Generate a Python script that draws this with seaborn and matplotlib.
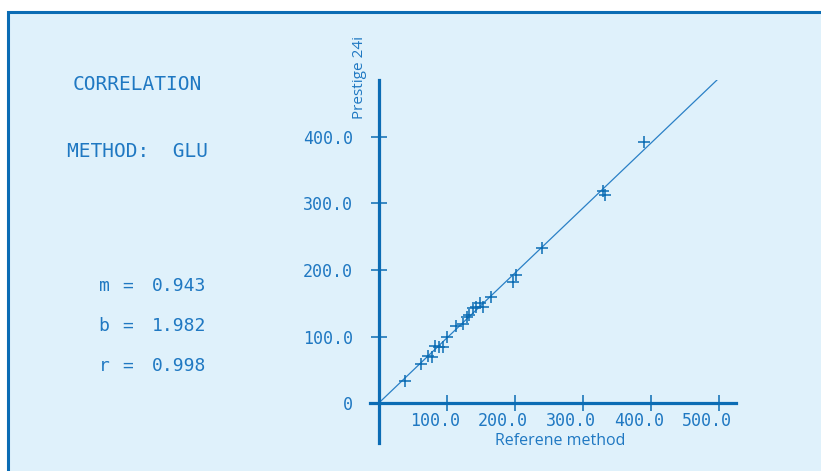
import numpy as np
import pandas as pd
import matplotlib
matplotlib.use('Agg')
import matplotlib.pyplot as plt
import matplotlib.transforms as mtransforms
from matplotlib.patches import Rectangle
import seaborn as sns

# 数据
reference = [38.9, 62.4, 73.1, 78.9, 82.9, 88.8, 95.1, 100.1, 113.7, 123.6,
             129.4, 133.2, 138.2, 143.1, 149.0, 153.8, 164.6, 197.8, 201.8,
             239.5, 329.9, 332.3, 390.0]
prestige = [33.9, 58.5, 70.9, 69.0, 85.9, 84.0, 84.0, 99.0, 116.3, 118.4,
            129.8, 132.4, 142.4, 144.8, 149.9, 144.8, 159.8, 182.3, 192.4,
            232.4, 318.7, 312.3, 392.2]
fit_x = [0, 497]
fit_y = [0, 485]
x_ticks = [100, 200, 300, 400, 500]
y_ticks = [0, 100, 200, 300, 400]
stats = [('m', '0.943'), ('b', '1.982'), ('r', '0.998')]

BG = '#dff1fb'
BLUE = '#0b6cb4'
TXT = '#1f78c2'
W, H = 821, 471

sns.set_style('white')
plt.rcParams['font.family'] = ['DejaVu Sans']

fig = plt.figure(figsize=(W / 100, H / 100), dpi=100, facecolor='white')

# 背景框
fig.patches.append(Rectangle((8 / W, -0.2), 1.5, 0.2 + 1 - 11.5 / H,
                             transform=fig.transFigure, facecolor=BG,
                             edgecolor=BLUE, linewidth=2.2, zorder=-10))

# 坐标轴
x0, x1 = -13, 524
y0, y1 = -60, 484
left = (378.5 + x0 * 0.6815) / W
right = (378.5 + x1 * 0.6815) / W
bottom = 1 - (403.3 - y0 * 0.667) / H
top = 1 - (403.3 - y1 * 0.667) / H
ax = fig.add_axes([left, bottom, right - left, top - bottom])
ax.patch.set_visible(False)

df = pd.DataFrame({'ref': reference, 'pre': prestige})
sns.lineplot(x=fit_x, y=fit_y, ax=ax, color='#2a80c6', linewidth=0.9)
sns.scatterplot(data=df, x='ref', y='pre', ax=ax, marker='+', s=75,
                color=BLUE, linewidth=1.1, zorder=5)

ax.set_xlim(x0, x1)
ax.set_ylim(y0, y1)
for side in ['top', 'right']:
    ax.spines[side].set_visible(False)
for side in ['left', 'bottom']:
    ax.spines[side].set_position(('data', 0))
    ax.spines[side].set_color(BLUE)
    ax.spines[side].set_linewidth(2.3)

ax.set_xticks(x_ticks)
ax.set_xticklabels([f'{v:.1f}' for v in x_ticks])
ax.set_yticks(y_ticks)
ax.set_yticklabels(['0' if v == 0 else f'{v:.1f}' for v in y_ticks])
ax.tick_params(direction='inout', length=11, width=1.1, color=BLUE,
               labelcolor=TXT, labelsize=12, bottom=True, left=True)
ax.tick_params(axis='x', pad=0.5)
ax.tick_params(axis='y', pad=13)
for lab in ax.get_xticklabels() + ax.get_yticklabels():
    lab.set_family('DejaVu Sans Mono')
shift = mtransforms.ScaledTranslation(-12 / 100, 0, fig.dpi_scale_trans)
for lab in ax.get_xticklabels():
    lab.set_transform(lab.get_transform() + shift)
ax.set_xlabel('')
ax.set_ylabel('')

# 轴标题
fig.text(560.5 / W, 1 - 441 / H, 'Referene method', ha='center', va='center',
         color=TXT, fontsize=11.5, family='Open Sans')
fig.text(359 / W, 1 - 77.5 / H, 'Prestige 24i', ha='center', va='center',
         rotation=90, color=TXT, fontsize=11, family='Open Sans')

# 左侧文字
mono = dict(color=TXT, family='DejaVu Sans Mono', va='center')
fig.text(73 / W, 1 - 84.5 / H, 'CORRELATION', fontsize=14, **mono)
fig.text(66.5 / W, 1 - 152 / H, 'METHOD:  GLU', fontsize=14, **mono)
for i, (name, val) in enumerate(stats):
    yy = 1 - (286 + 40 * i) / H
    fig.text(104 / W, yy, name, fontsize=13, ha='center', **mono)
    fig.text(127.5 / W, yy, '=', fontsize=13, ha='center', **mono)
    fig.text(152 / W, yy, val, fontsize=13, ha='left', **mono)

fig.savefig('out.png', dpi=100, facecolor='white')
